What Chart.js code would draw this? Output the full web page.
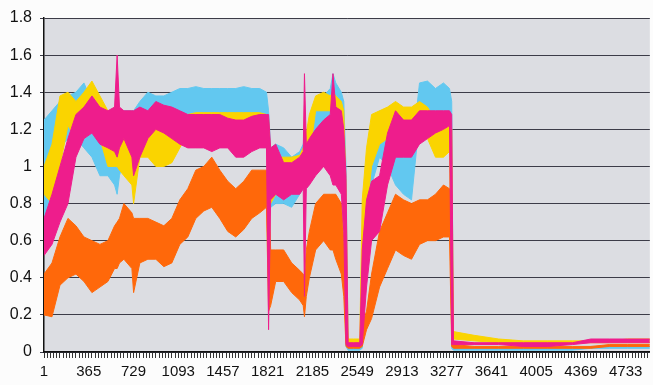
<!DOCTYPE html>
<html>
<head>
<meta charset="utf-8">
<script src="https://cdn.jsdelivr.net/npm/chart.js@4.4.1/dist/chart.umd.min.js"></script>
<style>
html,body{margin:0;padding:0;background:#fcfcfc;}
#wrap{width:653px;height:385px;}
</style>
</head>
<body>
<div id="wrap"><canvas id="c" width="653" height="385"></canvas></div>
<script>
// sample positions (row index of the data)
const idx = [1,66,131,196,261,326,391,456,521,575,
 596,615,651,716,730,781,846,911,976,1041,
 1106,1171,1236,1301,1366,1431,1496,1561,1626,1691,
 1756,1811,1828,1845,1886,1951,2016,2081,2110,2120,
 2135,2160,2211,2276,2330,2352,2375,2420,2440,2458,
 2475,2520,2570,2590,2625,2666,2731,2796,2861,2926,
 2991,3056,3121,3186,3251,3300,3318,3332,3500,3700,
 3900,4100,4300,4450,4600,4750,4930];

// lower / upper envelope of each series
const blueLo = [0.62,0.95,1.10,1.15,1.15,1.10,1.05,0.95,0.95,0.90,
 0.85,0.95,1.05,1.10,1.10,1.15,1.20,1.22,1.25,1.25,
 1.26,1.27,1.27,1.27,1.27,1.27,1.27,1.27,1.27,1.27,
 1.27,1.27,0.70,0.78,0.80,0.80,0.78,0.85,0.88,0.90,
 0.92,1.00,1.15,1.20,1.22,1.20,1.20,1.15,0.95,0.03,
 0.01,0.01,0.01,0.02,0.50,0.90,1.05,1.00,0.90,0.85,
 0.82,1.25,1.30,1.30,1.30,1.30,0.02,0.01,0.01,0.01,
 0.01,0.01,0.01,0.02,0.02,0.02,0.02];
const blueHi = [1.25,1.30,1.35,1.38,1.40,1.45,1.35,1.25,1.20,1.20,
 1.18,1.25,1.30,1.30,1.30,1.35,1.40,1.38,1.38,1.40,
 1.42,1.42,1.43,1.42,1.42,1.42,1.42,1.42,1.43,1.42,
 1.42,1.40,1.30,1.10,1.12,1.10,1.05,1.08,1.12,1.15,
 1.18,1.25,1.35,1.38,1.42,1.50,1.45,1.40,1.35,1.00,
 0.03,0.03,0.03,0.40,0.95,1.25,1.30,1.30,1.15,1.08,
 1.05,1.45,1.46,1.42,1.45,1.42,1.35,0.03,0.02,0.02,
 0.02,0.02,0.02,0.03,0.03,0.03,0.03];

const yellowLo = [0.85,0.80,1.00,1.22,1.15,1.15,1.20,1.15,1.00,1.00,
 1.00,0.98,0.95,0.90,0.80,1.05,1.05,1.00,1.00,1.02,
 1.10,1.18,1.18,1.18,1.18,1.18,1.18,1.18,1.18,1.18,
 1.18,1.18,0.75,0.80,0.85,0.95,0.98,0.98,0.95,0.95,
 0.98,1.05,1.30,1.30,1.30,1.30,1.28,1.10,0.85,0.05,
 0.04,0.04,0.04,0.05,0.75,1.00,1.12,1.15,1.18,1.15,
 1.15,1.20,1.15,1.05,1.05,1.08,0.08,0.07,0.06,0.05,
 0.05,0.05,0.05,0.05,0.05,0.05,0.05];
const yellowHi = [1.00,1.12,1.38,1.40,1.35,1.40,1.46,1.38,1.30,1.20,
 1.20,1.18,1.15,1.15,1.15,1.20,1.20,1.22,1.20,1.22,
 1.25,1.28,1.29,1.29,1.29,1.29,1.29,1.29,1.29,1.29,
 1.29,1.28,1.25,1.05,1.05,1.05,1.05,1.06,1.10,1.12,
 1.18,1.28,1.38,1.40,1.38,1.40,1.38,1.35,1.30,0.90,
 0.07,0.07,0.07,0.82,1.10,1.28,1.30,1.32,1.35,1.32,
 1.32,1.35,1.32,1.25,1.25,1.22,1.20,0.11,0.09,0.07,
 0.06,0.06,0.06,0.06,0.06,0.07,0.07];

const magentaLo = [0.52,0.58,0.70,0.80,1.05,1.15,1.18,1.12,1.10,1.08,
 1.05,1.10,1.15,1.05,0.95,1.05,1.15,1.20,1.18,1.15,
 1.12,1.10,1.10,1.10,1.08,1.10,1.10,1.05,1.05,1.08,
 1.10,1.10,0.12,0.82,0.85,0.82,0.85,0.85,0.88,0.30,
 0.88,0.90,0.95,1.00,0.95,0.90,0.90,0.85,0.65,0.04,
 0.03,0.03,0.03,0.04,0.35,0.60,0.65,0.90,1.05,1.05,
 1.05,1.12,1.15,1.18,1.20,1.22,0.04,0.04,0.04,0.04,
 0.03,0.03,0.04,0.05,0.05,0.05,0.05];
const magentaHi = [0.72,0.85,1.00,1.15,1.28,1.32,1.38,1.32,1.30,1.32,
 1.60,1.32,1.30,1.30,1.30,1.32,1.30,1.35,1.33,1.32,
 1.30,1.28,1.28,1.28,1.28,1.28,1.26,1.25,1.25,1.27,
 1.28,1.28,1.28,1.10,1.12,1.02,1.02,1.05,1.08,1.50,
 1.12,1.15,1.20,1.25,1.28,1.50,1.32,1.30,1.20,0.95,
 0.05,0.05,0.05,0.55,0.82,0.92,0.95,1.18,1.30,1.25,
 1.25,1.30,1.30,1.30,1.30,1.30,1.28,0.06,0.05,0.05,
 0.05,0.05,0.05,0.07,0.07,0.07,0.07];

const orangeLo = [0.20,0.19,0.36,0.40,0.42,0.38,0.32,0.35,0.38,0.45,
 0.45,0.48,0.50,0.45,0.32,0.48,0.50,0.50,0.46,0.48,
 0.58,0.62,0.72,0.76,0.78,0.72,0.65,0.62,0.66,0.72,
 0.75,0.78,0.22,0.25,0.38,0.38,0.32,0.28,0.25,0.19,
 0.30,0.40,0.55,0.60,0.55,0.55,0.50,0.42,0.30,0.03,
 0.02,0.02,0.02,0.03,0.12,0.18,0.35,0.45,0.55,0.52,
 0.50,0.58,0.60,0.60,0.62,0.62,0.03,0.02,0.02,0.02,
 0.02,0.02,0.02,0.02,0.03,0.03,0.03];
const orangeHi = [0.42,0.48,0.62,0.72,0.68,0.62,0.60,0.58,0.60,0.68,
 0.70,0.72,0.80,0.75,0.72,0.72,0.72,0.70,0.68,0.72,
 0.82,0.88,0.98,1.00,1.05,0.98,0.92,0.88,0.92,0.98,
 0.98,0.98,0.95,0.55,0.55,0.55,0.48,0.44,0.42,0.40,
 0.55,0.65,0.80,0.85,0.85,0.85,0.85,0.80,0.60,0.40,
 0.04,0.04,0.04,0.15,0.22,0.42,0.65,0.75,0.85,0.82,
 0.80,0.82,0.82,0.85,0.90,0.88,0.85,0.04,0.03,0.03,
 0.03,0.03,0.03,0.03,0.04,0.04,0.04];

const xLabelStep = 364;
const xTickStep = 26;
const xMax = 4930;
const yTicks = [0,0.2,0.4,0.6,0.8,1,1.2,1.4,1.6,1.8];

const COLORS = {blue:'#62c8f0', yellow:'#fad400', magenta:'#ee1d8c', orange:'#ff680a'};

function band(lo, hi, color){
  const common = {borderColor: color, backgroundColor: color, borderWidth: 1, pointRadius: 0, tension: 0};
  return [
    Object.assign({data: idx.map((x,i)=>({x:x, y:hi[i]})), fill: '+1'}, common),
    Object.assign({data: idx.map((x,i)=>({x:x, y:lo[i]})), fill: false}, common)
  ];
}

const bgPlugin = {
  id: 'plotbg',
  beforeDraw(chart){
    const a = chart.chartArea, ctx = chart.ctx;
    ctx.save();
    ctx.fillStyle = '#dcdde2';
    ctx.fillRect(a.left, a.top, a.right - a.left, a.bottom - a.top);
    ctx.restore();
  }
};

const XFONT = {family: '"Liberation Sans", Arial, sans-serif', size: 15};
const YFONT = {family: '"Liberation Sans", Arial, sans-serif', size: 16};

new Chart(document.getElementById('c'), {
  type: 'line',
  data: {
    datasets: [
      ...band(magentaLo, magentaHi, COLORS.magenta),
      ...band(orangeLo, orangeHi, COLORS.orange),
      ...band(yellowLo, yellowHi, COLORS.yellow),
      ...band(blueLo, blueHi, COLORS.blue)
    ]
  },
  options: {
    responsive: false,
    animation: false,
    devicePixelRatio: 1,
    layout: {padding: {top: 18, right: 1, left: 0, bottom: 0}},
    plugins: {legend: {display: false}, tooltip: {enabled: false}},
    scales: {
      x: {
        type: 'linear',
        min: 1,
        max: xMax,
        afterBuildTicks: s => {
          const t = [];
          for (let v = 1; v <= xMax; v += xTickStep) t.push({value: v});
          s.ticks = t;
        },
        afterFit: s => { s.height = 33; },
        grid: {drawOnChartArea: false, drawTicks: true, tickLength: 6, color: '#333', lineWidth: 1},
        border: {color: '#111', width: 1.5},
        ticks: {
          autoSkip: false, maxRotation: 0, minRotation: 0, padding: 5,
          color: '#111', font: XFONT,
          callback: v => ((v - 1) % xLabelStep === 0 ? String(v) : '')
        }
      },
      y: {
        min: 0,
        max: 1.8,
        afterBuildTicks: s => { s.ticks = yTicks.map(v => ({value: v})); },
        afterFit: s => { s.width = 44; },
        grid: {color: '#3c3c48', lineWidth: 1, tickLength: 4},
        border: {color: '#111', width: 1.5},
        ticks: {
          padding: 8, color: '#111', font: YFONT,
          callback: v => String(+v.toFixed(1))
        }
      }
    }
  },
  plugins: [bgPlugin]
});
</script>
</body>
</html>
